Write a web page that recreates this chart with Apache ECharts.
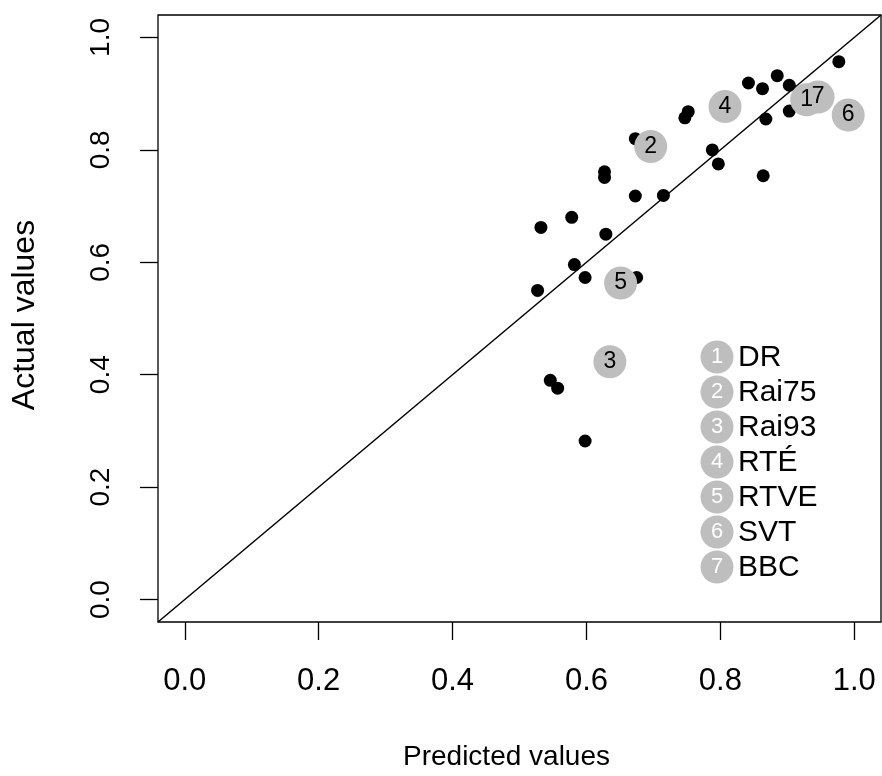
<!DOCTYPE html>
<html>
<head>
<meta charset="utf-8">
<script src="https://cdn.jsdelivr.net/npm/echarts@6/dist/echarts.min.js"></script>
<style>
  html, body { margin: 0; padding: 0; background: #fff; }
  #chart { width: 882px; height: 776px; }
</style>
</head>
<body>
<div id="chart"></div>
<script>
// 数据 ----
// 黑点: 各国家/年份 (predicted, actual)
const predicted = [0.842, 0.863, 0.885, 0.903, 0.977, 0.868, 0.903, 0.752, 0.747, 0.673,
                   0.627, 0.627, 0.788, 0.797, 0.864, 0.673, 0.715, 0.532, 0.578, 0.629,
                   0.582, 0.598, 0.675, 0.527, 0.546, 0.557, 0.598];
const actual    = [0.919, 0.909, 0.932, 0.915, 0.957, 0.855, 0.869, 0.868, 0.857, 0.820,
                   0.761, 0.751, 0.800, 0.775, 0.754, 0.718, 0.719, 0.662, 0.680, 0.650,
                   0.596, 0.573, 0.573, 0.550, 0.390, 0.376, 0.282];

// 灰圈: 电视台
const broadcasters   = ['DR', 'Rai75', 'Rai93', 'RTÉ', 'RTVE', 'SVT', 'BBC'];
const bcPredicted    = [0.929, 0.696, 0.635, 0.807, 0.651, 0.991, 0.946];
const bcActual       = [0.889, 0.806, 0.423, 0.877, 0.563, 0.862, 0.894];

// 坐标轴刻度
const tickValues = [0, 0.2, 0.4, 0.6, 0.8, 1.0];
const axisMin = -0.04, axisMax = 1.04;

const font = "'Liberation Sans', Arial, Helvetica, sans-serif";
const grey = '#BEBEBE';

let chart = echarts.init(document.getElementById('chart'), null, {renderer: 'canvas'});

// 图例 (graphic)
let legendGraphic = [];
broadcasters.forEach((name, i) => {
    let cy = 357 + i * 35;
    legendGraphic.push({
        type: 'circle', shape: {cx: 717, cy: cy, r: 16.5},
        style: {fill: grey}, z: 100
    });
    legendGraphic.push({
        type: 'text', x: 717, y: cy,
        style: {text: String(i + 1), fill: '#fff', font: '22px ' + font, textAlign: 'center', textVerticalAlign: 'middle'},
        z: 101
    });
    legendGraphic.push({
        type: 'text', x: 738, y: cy + 1,
        style: {text: name, fill: '#000', font: '30px ' + font, textAlign: 'left', textVerticalAlign: 'middle'},
        z: 101
    });
});

let axisCommon = {
    type: 'value',
    min: axisMin,
    max: axisMax,
    splitLine: {show: false},
    axisLine: {show: false, onZero: false},
    nameLocation: 'middle',
    axisTick: {show: true, inside: false, length: 18, customValues: tickValues,
               lineStyle: {color: '#000', width: 1.3}},
};

let option = {
    backgroundColor: '#fff',
    animation: false,
    grid: {left: 158, right: 1, top: 15, bottom: 154, show: true,
           borderColor: '#000', borderWidth: 1.3, backgroundColor: 'transparent'},
    xAxis: Object.assign({}, axisCommon, {
        name: 'Predicted values',
        nameGap: 121,
        nameTextStyle: {color: '#000', fontSize: 28, fontFamily: font, padding: [0, 26, 0, 0]},
        axisLabel: {customValues: tickValues, margin: 44, color: '#000', fontSize: 31, fontFamily: font,
                    formatter: v => v.toFixed(1)}
    }),
    yAxis: Object.assign({}, axisCommon, {
        name: 'Actual values',
        nameGap: 117,
        nameTextStyle: {color: '#000', fontSize: 32, fontFamily: font, padding: [0, 0, 0, 7]},
        axisLabel: {customValues: tickValues, margin: 43, rotate: 90, color: '#000', fontSize: 28, fontFamily: font,
                    formatter: v => v.toFixed(1)}
    }),
    graphic: legendGraphic,
    series: [
        {
            // y = x 参考线
            type: 'line',
            data: [[axisMin, axisMin], [axisMax, axisMax]],
            symbol: 'none',
            lineStyle: {color: '#000', width: 1.5},
            z: 1
        },
        {
            type: 'scatter',
            data: predicted.map((p, i) => [p, actual[i]]),
            symbolSize: 13,
            itemStyle: {color: '#000', opacity: 1},
            z: 2
        },
        {
            type: 'scatter',
            data: bcPredicted.map((p, i) => [p, bcActual[i], i + 1]),
            symbolSize: 33,
            itemStyle: {color: grey, opacity: 1},
            label: {show: true, position: 'inside', formatter: d => d.value[2],
                    color: '#000', fontSize: 23, fontFamily: font},
            z: 3
        }
    ]
};

chart.setOption(option);
</script>
</body>
</html>
